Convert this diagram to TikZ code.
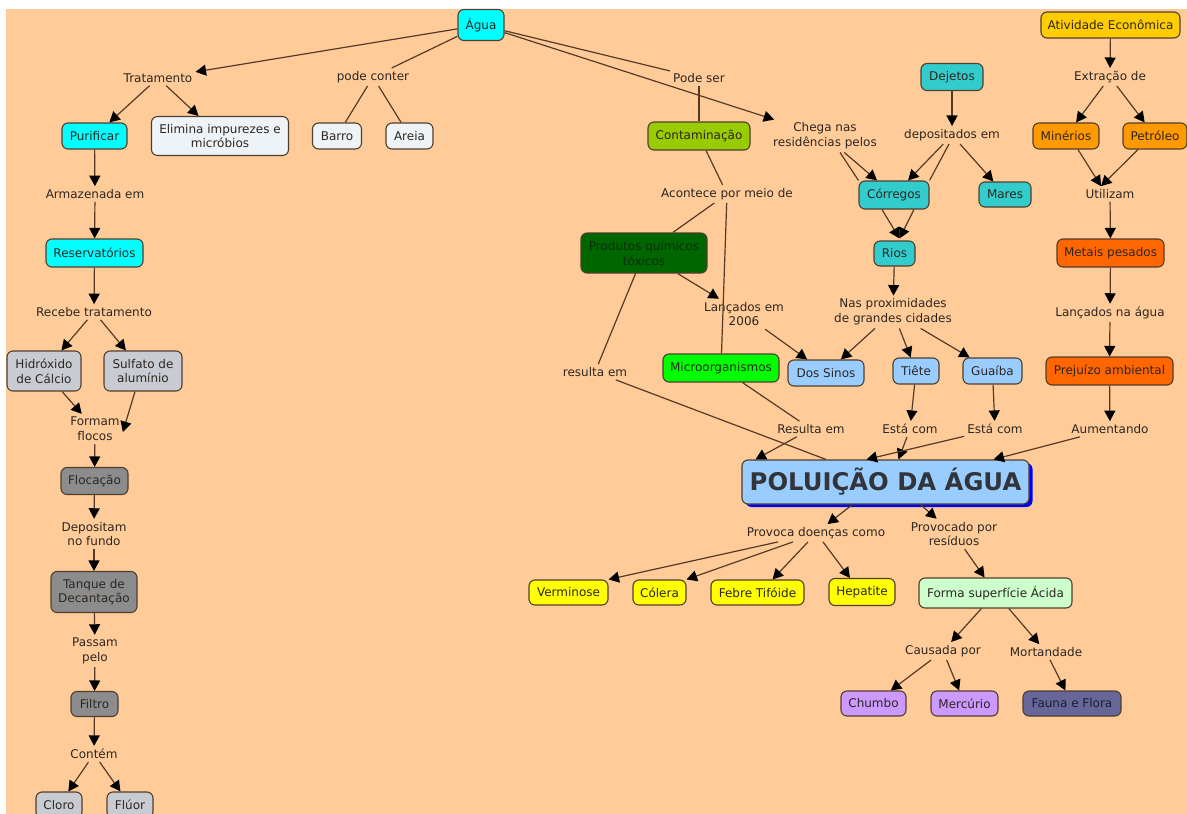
\documentclass[tikz,border=0pt]{standalone}
\usepackage{fontspec}
\setmainfont{DejaVu Sans}
\usetikzlibrary{arrows.meta,shadows}
\definecolor{peach}{RGB}{255,204,153}
\definecolor{bordc}{RGB}{80,62,45}
\definecolor{linec}{RGB}{85,58,38}
\definecolor{txtc}{RGB}{45,38,32}
\definecolor{ccyan}{RGB}{0,255,255}
\definecolor{clight}{RGB}{238,243,247}
\definecolor{cgrey}{RGB}{200,204,210}
\definecolor{cdgrey}{RGB}{140,140,140}
\definecolor{ccontam}{RGB}{153,204,0}
\definecolor{cdgreen}{RGB}{0,102,0}
\definecolor{cgreen}{RGB}{0,255,0}
\definecolor{cteal}{RGB}{51,204,204}
\definecolor{cblue}{RGB}{153,204,255}
\definecolor{cshadow}{RGB}{0,0,255}
\definecolor{cgold}{RGB}{255,204,0}
\definecolor{corange}{RGB}{255,153,0}
\definecolor{cdorange}{RGB}{255,102,0}
\definecolor{cyellow}{RGB}{255,255,0}
\definecolor{cmint}{RGB}{204,255,204}
\definecolor{clav}{RGB}{204,153,255}
\definecolor{cslate}{RGB}{102,102,153}
\newcommand\mapfont{\fontsize{12}{14.8}\selectfont}
\tikzset{
  concept/.style={draw=bordc, line width=1.1pt, rounded corners=6pt, inner sep=0pt,
    align=center, text=txtc, font=\mapfont, minimum height=26pt},
  twoline/.style={minimum height=40pt},
  lp/.style={inner sep=3pt, align=center, text=txtc, font=\mapfont},
  con/.style={draw=linec, line width=1.2pt},
  arr/.style={con, -{Triangle[length=10.5pt,width=11pt,color=black]}},
}
\begin{document}
\begin{tikzpicture}[x=1pt,y=1pt]
\useasboundingbox (0,0) rectangle (1187,-814);
\fill[white] (0,0) rectangle (1187,-814);
\fill[peach] (6,-9) rectangle (1187,-814);

% ---- concepts ----
\node[concept, fill=ccyan, minimum width=46pt, minimum height=31pt] (agua) at (481,-25) {Água};
\node[concept, fill=ccyan, minimum width=65pt] (purif) at (94.5,-136) {Purificar};
\node[concept, fill=clight, minimum width=137pt, minimum height=39pt] (elim) at (220,-136) {Elimina impurezes e\\micróbios};
\node[concept, fill=clight, minimum width=49pt] (barro) at (337,-136) {Barro};
\node[concept, fill=clight, minimum width=47pt] (areia) at (409.5,-136) {Areia};
\node[concept, fill=ccyan, minimum width=97pt, minimum height=28pt] (reserv) at (94.5,-253) {Reservatórios};
\node[concept, twoline, fill=cgrey, minimum width=74pt] (hidr) at (44,-371) {Hidróxido\\de Cálcio};
\node[concept, twoline, fill=cgrey, minimum width=78pt] (sulf) at (143,-371) {Sulfato de\\alumínio};
\node[concept, fill=cdgrey, minimum width=67pt, minimum height=27pt] (floc) at (94.5,-481) {Flocação};
\node[concept, fill=cdgrey, minimum width=86pt, minimum height=41pt] (tanque) at (94,-592) {Tanque de\\Decantação};
\node[concept, fill=cdgrey, minimum width=47pt, minimum height=25pt] (filtro) at (94.5,-704) {Filtro};
\node[concept, fill=cgrey, minimum width=46pt] (cloro) at (59,-805) {Cloro};
\node[concept, fill=cgrey, minimum width=46pt] (fluor) at (130,-805) {Flúor};

\node[concept, fill=ccontam, minimum width=102pt, minimum height=28pt] (contam) at (699,-136) {Contaminação};
\node[concept, twoline, fill=cdgreen, text={rgb,255:red,10;green,45;blue,10}, minimum width=126pt] (prod) at (644,-253) {Produtos químicos\\tóxicos};
\node[concept, fill=cgreen, minimum width=116pt, minimum height=28pt] (micro) at (721,-368) {Microorganismos};

\node[concept, fill=cteal, minimum width=62pt, minimum height=27pt] (dejetos) at (952,-77) {Dejetos};
\node[concept, fill=cteal, minimum width=70pt, minimum height=28pt] (cor) at (894,-195) {Córregos};
\node[concept, fill=cteal, minimum width=52pt, minimum height=25pt] (mares) at (1005,-194.5) {Mares};
\node[concept, fill=cteal, minimum width=41pt, minimum height=25pt] (rios) at (894.5,-253.5) {Rios};

\node[concept, fill=cblue, minimum width=76pt] (sinos) at (826,-373) {Dos Sinos};
\node[concept, fill=cblue, minimum width=46pt] (tiete) at (916,-371) {Tiête};
\node[concept, fill=cblue, minimum width=59pt] (guaiba) at (992.5,-371) {Guaíba};

\node[concept, fill=cgold, minimum width=139pt] (ativ) at (1110.5,-25) {Atividade Econômica};
\node[concept, fill=corange, minimum width=66pt] (min) at (1066,-136) {Minérios};
\node[concept, fill=corange, minimum width=64pt] (pet) at (1155,-136) {Petróleo};
\node[concept, fill=cdorange, minimum width=107pt, minimum height=28pt] (metais) at (1110.5,-253) {Metais pesados};
\node[concept, fill=cdorange, minimum width=127pt, minimum height=28pt] (prej) at (1109.5,-371) {Prejuízo ambiental};

\node[concept, fill=cblue, minimum width=287pt, minimum height=44pt,
  general shadow={fill=cshadow, shadow xshift=3.5pt, shadow yshift=-3pt},
  font=\fontsize{24.3}{28}\selectfont\bfseries, text={rgb,255:red,50;green,52;blue,58}] (pol) at (885.5,-482) {POLUIÇÃO DA ÁGUA};

\node[concept, fill=cyellow, minimum width=79pt, minimum height=25pt] (verm) at (568.5,-592.5) {Verminose};
\node[concept, fill=cyellow, minimum width=53pt, minimum height=25pt] (col) at (659.5,-592.5) {Cólera};
\node[concept, fill=cyellow, minimum width=93pt, minimum height=25pt] (febre) at (757.5,-592.5) {Febre Tifóide};
\node[concept, fill=cyellow, minimum width=66pt, minimum height=27pt] (hep) at (862,-592) {Hepatite};
\node[concept, fill=cmint, minimum width=153pt, minimum height=30pt] (forma) at (995.5,-593) {Forma superfície Ácida};
\node[concept, fill=clav, minimum width=65pt, minimum height=25pt] (chumbo) at (873.5,-703.5) {Chumbo};
\node[concept, fill=clav, minimum width=67pt, minimum height=25pt] (merc) at (964.5,-703.5) {Mercúrio};
\node[concept, fill=cslate, text={rgb,255:red,30;green,30;blue,50}, minimum width=98pt, minimum height=25pt] (fauna) at (1072,-703.5) {Fauna e Flora};

% ---- linking phrases ----
\node[lp] (trat) at (158,-78) {Tratamento};
\node[lp] (podec) at (373,-77) {pode conter};
\node[lp] (podeser) at (699,-78) {Pode ser};
\node[lp] (chega) at (825,-136) {Chega nas\\residências pelos};
\node[lp] (dep) at (952,-135) {depositados em};
\node[lp] (extr) at (1110,-77) {Extração de};
\node[lp] (util) at (1110,-194) {Utilizam};
\node[lp] (armaz) at (95,-194) {Armazenada em};
\node[lp] (receb) at (94,-312) {Recebe tratamento};
\node[lp] (flocos) at (95,-429) {Formam\\flocos};
\node[lp] (depos) at (94,-534) {Depositam\\no fundo};
\node[lp] (passam) at (95,-651) {Passam\\pelo};
\node[lp] (contem) at (94,-754) {Contém};
\node[lp] (acont) at (727,-194) {Acontece por meio de};
\node[lp] (lanc) at (744,-314) {Lançados em\\2006};
\node[lp] (resulta) at (595,-372) {resulta em};
\node[lp] (nas) at (893,-312) {Nas proximidades\\de grandes cidades};
\node[lp] (lagua) at (1110,-313) {Lançados na água};
\node[lp] (aument) at (1110,-429) {Aumentando};
\node[lp] (Resulta) at (811,-429) {Resulta em};
\node[lp] (esta1) at (910,-429) {Está com};
\node[lp] (esta2) at (995,-429) {Está com};
\node[lp] (provd) at (816,-533) {Provoca doenças como};
\node[lp] (provr) at (954,-534) {Provocado por\\resíduos};
\node[lp] (causada) at (943,-651) {Causada por};
\node[lp] (mort) at (1046,-652) {Mortandade};

% ---- connectors ----
\draw[arr] (agua) -- (trat);
\draw[con] (agua) -- (podec);
\draw[con] (podec) -- (barro);
\draw[con] (podec) -- (areia);
\draw[con] (agua) -- (podeser);
\draw[arr] (agua) -- (chega);
\draw[con] (podeser) -- (contam);
\draw[con] (contam) -- (acont);
\draw[con] (acont) -- (prod);
\draw[con] (acont) -- (micro);
\draw[arr] (prod) -- (lanc);
\draw[arr] (lanc) -- (sinos);
\draw[con] (prod) -- (resulta);
\draw[con] (resulta) -- (pol);
\draw[con] (micro) -- (Resulta);
\draw[arr] (Resulta) -- ([xshift=14pt]pol.north west);
\draw[arr] (chega) -- (cor);
\draw[con] ([xshift=15pt]chega.south) -- (cor.north west);
\draw[arr] (dejetos) -- (dep);
\draw[arr] (dep) -- (cor);
\draw[con] ([xshift=-3pt]dep.south) -- (cor.north east);
\draw[arr] (dep) -- (mares);
\draw[arr] ([xshift=-12pt]cor.south) -- ([xshift=5pt,yshift=2pt]rios.north);
\draw[arr] ([xshift=20pt]cor.south) -- ([xshift=5pt,yshift=2pt]rios.north);
\draw[arr] (rios) -- (nas);
\draw[arr] (nas) -- (sinos);
\draw[arr] (nas) -- (tiete);
\draw[arr] (nas) -- (guaiba);
\draw[arr] (tiete) -- (esta1);
\draw[arr] (guaiba) -- (esta2);
\draw[arr] (esta1) -- ([xshift=13pt]pol.north);
\draw[arr] (esta2) -- ([xshift=-19pt]pol.north);
\draw[arr] (ativ) -- (extr);
\draw[arr] (extr) -- (min);
\draw[arr] (extr) -- (pet);
\draw[arr] ([xshift=12pt]min.south) -- ([xshift=-9pt]util.north);
\draw[arr] ([xshift=-17pt]pet.south) -- ([xshift=-9pt]util.north);
\draw[arr] (util) -- (metais);
\draw[arr] (metais) -- (lagua);
\draw[arr] (lagua) -- (prej);
\draw[arr] (prej) -- (aument);
\draw[arr] (aument) -- ([xshift=108pt]pol.north);
\draw[arr] ([xshift=-33pt]pol.south) -- (provd);
\draw[arr] ([xshift=35pt]pol.south) -- (provr);
\draw[arr] ([xshift=-38pt]provd.south) -- (verm.north east);
\draw[arr] ([xshift=-23pt]provd.south) -- (col.north east);
\draw[arr] ([xshift=-8pt]provd.south) -- ([xshift=15pt]febre.north);
\draw[arr] ([xshift=7pt]provd.south) -- ([xshift=-12pt]hep.north);
\draw[arr] (provr) -- (forma);
\draw[arr] (forma) -- (causada);
\draw[arr] (forma) -- (mort);
\draw[arr] (causada) -- (chumbo);
\draw[arr] (causada) -- (merc);
\draw[arr] (mort) -- (fauna);
\draw[arr] (trat) -- (purif);
\draw[arr] (trat) -- (elim);
\draw[arr] (purif) -- (armaz);
\draw[arr] (armaz) -- (reserv);
\draw[arr] (reserv) -- (receb);
\draw[arr] (receb) -- (hidr);
\draw[arr] (receb) -- (sulf);
\draw[arr] (hidr) -- (flocos);
\draw[arr] ([xshift=-8pt]sulf.south) -- ([yshift=-3pt]flocos.east);
\draw[arr] (flocos) -- (floc);
\draw[arr] (floc) -- (depos);
\draw[arr] (depos) -- (tanque);
\draw[arr] (tanque) -- (passam);
\draw[arr] (passam) -- (filtro);
\draw[arr] (filtro) -- (contem);
\draw[arr] (contem) -- (cloro);
\draw[arr] (contem) -- (fluor);
\end{tikzpicture}
\end{document}
